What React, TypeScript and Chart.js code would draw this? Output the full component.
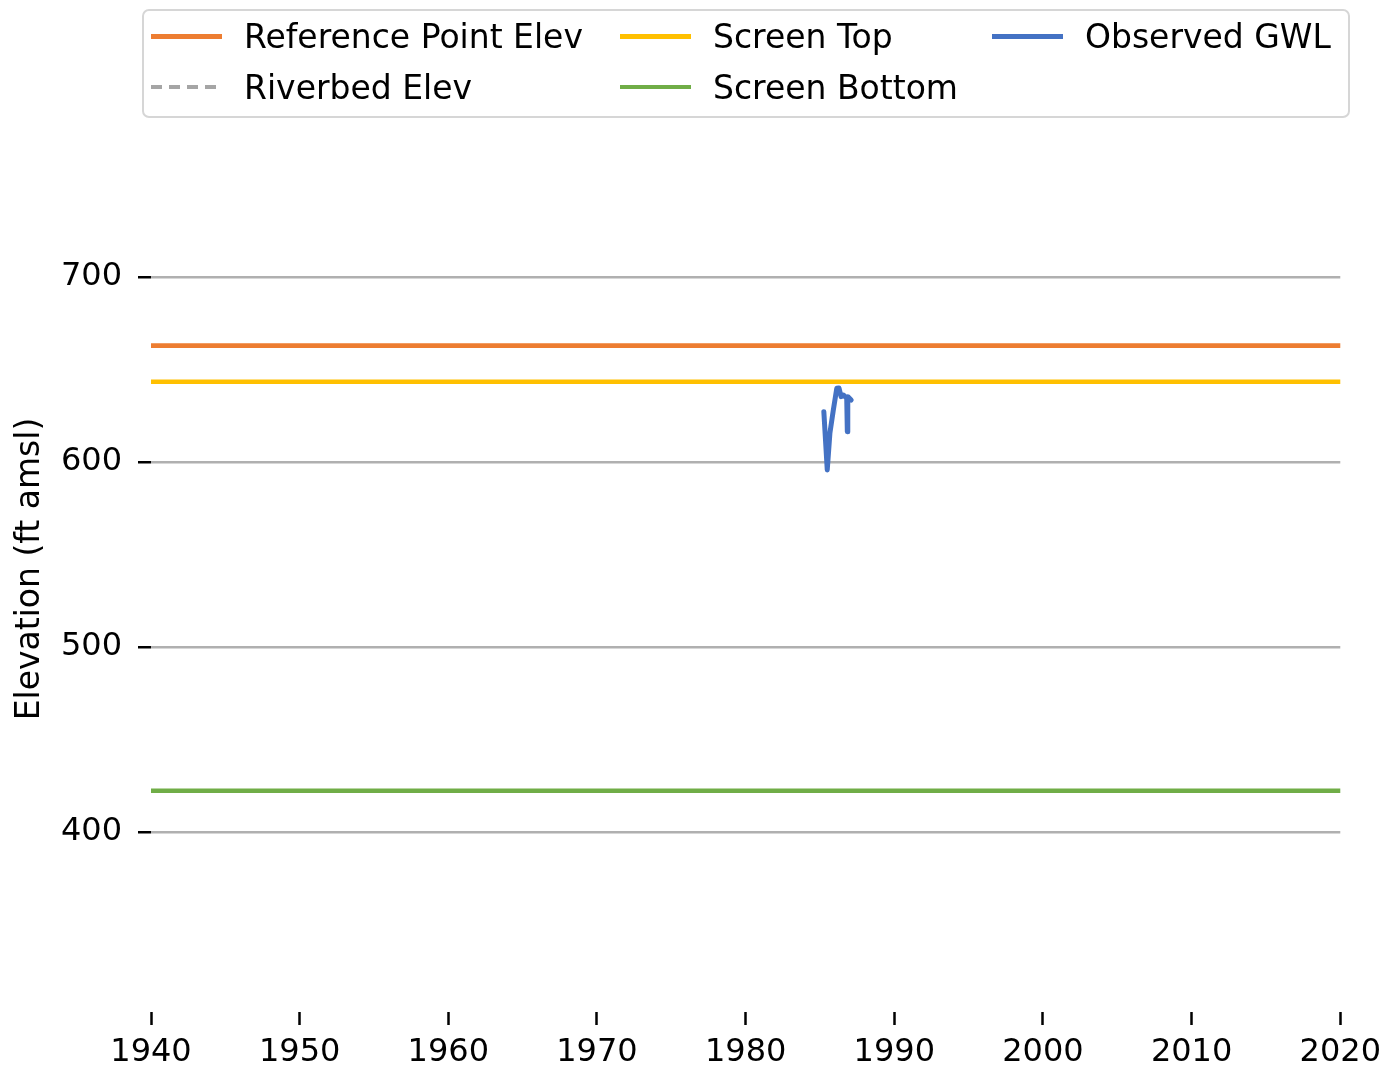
import React, { useEffect, useRef } from "react";
import { Chart, registerables } from "chart.js";

Chart.register(...registerables);

// ---- Data ----
const xTickValues = [1940, 1950, 1960, 1970, 1980, 1990, 2000, 2010, 2020];
const yTickValues = [400, 500, 600, 700];
const xRange = [1940, 2020];
const yRange = [302.7, 781.6];

const seriesNames = ["Reference Point Elev", "Riverbed Elev", "Screen Top", "Screen Bottom", "Observed GWL"];
const seriesColors = ["#ED7D31", "#A5A5A5", "#FFC000", "#70AD47", "#4472C4"];
const seriesDashed = [false, true, false, false, false];

const referencePointElev = 662.9;
const riverbedElev: number[] = []; // no riverbed elevation available
const screenTopElev = 643.4;
const screenBottomElev = 422.3;

const obsDates = [1985.26, 1985.49, 1985.67, 1985.9, 1986.13, 1986.28, 1986.42, 1986.58, 1986.8, 1986.84, 1986.87, 1987.1];
const obsGwl = [627.2, 595.7, 615.7, 628.1, 639.8, 640.0, 635.3, 636.2, 634.4, 616.4, 635.3, 633.5];

const yTitle = "Elevation (ft amsl)";

const FONT = "'DejaVu Sans', sans-serif";
const FONT_SIZE = 33;
const TICK_FONT_SIZE = 32;
const W = 1389;
const H = 1069;

function flatLine(v: number) {
  return [
    { x: xRange[0], y: v },
    { x: xRange[1], y: v },
  ];
}

// legend layout (matplotlib ncol=3, column-major)
const legendCols = [151, 620, 992];
const legendRows = [36.3, 87];

export default function App() {
  const canvasRef = useRef<HTMLCanvasElement | null>(null);

  useEffect(() => {
    const canvas = canvasRef.current;
    if (!canvas) return;
    const ctx = canvas.getContext("2d");
    if (!ctx) return;

    const seriesData = [
      flatLine(referencePointElev),
      riverbedElev.map((v, i) => ({ x: xRange[i], y: v })),
      flatLine(screenTopElev),
      flatLine(screenBottomElev),
      obsDates.map((d, i) => ({ x: d, y: obsGwl[i] })),
    ];

    const chart = new Chart(ctx, {
      type: "line",
      data: {
        datasets: seriesNames.map((name, i) => ({
          label: name,
          data: seriesData[i],
          borderColor: seriesColors[i],
          backgroundColor: seriesColors[i],
          borderWidth: i === 4 ? 5 : 4.6,
          borderDash: seriesDashed[i] ? [11, 7] : [],
          borderJoinStyle: "round",
          borderCapStyle: "round",
          pointRadius: 0,
          tension: 0,
          fill: false,
          order: i === 4 ? 0 : 5 - i,
        })),
      },
      options: {
        animation: false,
        responsive: false,
        devicePixelRatio: 1,
        layout: { padding: { left: 0, right: W - 1341, top: 126, bottom: 0 } },
        plugins: {
          legend: { display: false },
          tooltip: { enabled: false },
        },
        scales: {
          x: {
            type: "linear",
            min: xRange[0],
            max: xRange[1],
            afterBuildTicks: (s: any) => {
              s.ticks = xTickValues.map((v) => ({ value: v }));
            },
            afterFit: (s: any) => {
              s.height = H - 1012;
            },
            ticks: {
              callback: (v: any) => String(v),
              font: { family: FONT, size: TICK_FONT_SIZE },
              color: "#000",
              padding: 8,
              maxRotation: 0,
              autoSkip: false,
            },
            grid: {
              drawOnChartArea: false,
              drawTicks: true,
              tickLength: 13,
              tickWidth: 2.5,
              tickColor: "#000",
            },
            border: { display: false },
          },
          y: {
            type: "linear",
            min: yRange[0],
            max: yRange[1],
            afterBuildTicks: (s: any) => {
              s.ticks = yTickValues.map((v) => ({ value: v }));
            },
            afterFit: (s: any) => {
              s.width = 151;
            },
            ticks: {
              callback: (v: any) => String(v),
              font: { family: FONT, size: TICK_FONT_SIZE },
              color: "#000",
              padding: 16,
            },
            grid: {
              color: "#b0b0b0",
              lineWidth: 2.5,
              drawTicks: true,
              tickLength: 13,
              tickWidth: 2.5,
              tickColor: "#000",
            },
            border: { display: false },
            title: {
              display: true,
              text: yTitle,
              font: { family: FONT, size: FONT_SIZE },
              color: "#000",
              padding: { top: 11, bottom: 0 },
            },
          },
        },
      },
    } as any);

    return () => chart.destroy();
  }, []);

  const order = [0, 1, 2, 3, 4];

  return (
    <div
      style={{
        position: "fixed",
        left: 0,
        top: 0,
        width: W,
        height: H,
        background: "#fff",
        fontFamily: FONT,
      }}
    >
      <canvas ref={canvasRef} width={W} height={H} style={{ display: "block", width: W, height: H }} />
      <div
        style={{
          position: "absolute",
          left: 142,
          top: 9,
          width: 1350 - 142,
          height: 118 - 9,
          boxSizing: "border-box",
          border: "2px solid #d6d6d6",
          borderRadius: 7,
          background: "rgba(255,255,255,0.8)",
        }}
      />
      {order.map((i) => {
        const col = Math.floor(i / 2);
        const row = i % 2;
        const lx = legendCols[col];
        const cy = legendRows[row];
        return (
          <React.Fragment key={seriesNames[i]}>
            <div
              style={{
                position: "absolute",
                left: lx,
                top: cy - 2.3,
                width: 71,
                height: 4.6,
                background: seriesDashed[i]
                  ? `repeating-linear-gradient(to right, ${seriesColors[i]} 0px, ${seriesColors[i]} 11px, transparent 11px, transparent 18px)`
                  : seriesColors[i],
              }}
            />
            <div
              style={{
                position: "absolute",
                left: lx + 93,
                top: cy - 16,
                fontSize: FONT_SIZE,
                lineHeight: 1,
                color: "#000",
                whiteSpace: "nowrap",
                fontFamily: FONT,
              }}
            >
              {seriesNames[i]}
            </div>
          </React.Fragment>
        );
      })}
    </div>
  );
}
